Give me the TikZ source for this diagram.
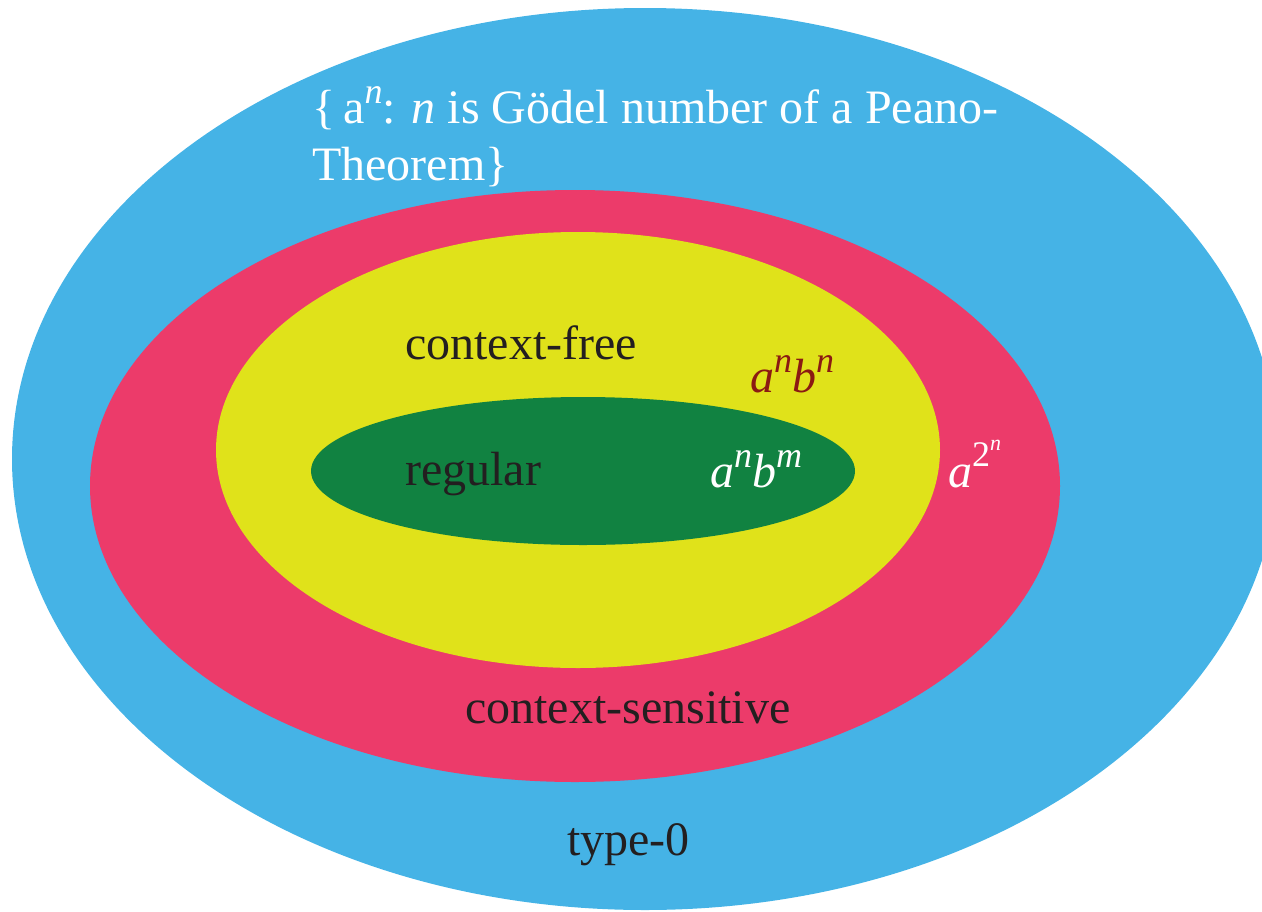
\documentclass[tikz,border=0pt]{standalone}
\usepackage{fontspec}
\setmainfont{Liberation Serif}
\definecolor{cblue}{HTML}{45B3E6}
\definecolor{cred}{HTML}{EC3B6A}
\definecolor{cyellow}{HTML}{E0E21A}
\definecolor{cgreen}{HTML}{118241}
\definecolor{ctext}{HTML}{231F20}
\definecolor{cdred}{HTML}{8B1A12}
\newcommand{\mysup}[1]{\raisebox{0.4em}{\fontsize{36}{36}\selectfont\textit{#1}}}
\begin{document}
\begin{tikzpicture}[x=1pt,y=-1pt,
  lbl/.style={inner sep=0pt,anchor=base west,font=\fontsize{48}{57}\selectfont,text=ctext}]
\useasboundingbox (0,0) rectangle (1262,911);
\begin{scope}
\clip (0,0) rectangle (1262,911);
\fill[cblue] (645,459) ellipse [x radius=633, y radius=451];
\end{scope}
\fill[cred] (575,486) ellipse [x radius=485, y radius=296];
\fill[cyellow] (578,450) ellipse [x radius=362, y radius=218];
\fill[cgreen] (583,471) ellipse [x radius=272, y radius=74];
\node[lbl,text=white] (h1) at (312,123) {\{\,a\mysup{n}: \textit{n} is Gödel number of a Peano-};
\node[lbl,text=white] (h2) at (312,180) {Theorem\}};
\node[lbl] (cf) at (405,359) {context-free};
\node[lbl] (rg) at (405,485) {regular};
\node[lbl] (cs) at (465,723) {context-sensitive};
\node[lbl] (t0) at (567,855) {type-0};
\node[lbl,text=cdred] (anbn) at (750,392) {\textit{a}\mysup{n}\textit{b}\mysup{n}};
\node[lbl,text=white] (anbm) at (710,487) {\textit{a}\mysup{n}\textit{b}\mysup{m}};
\node[lbl,text=white] (a2n) at (948,487) {\textit{a}\raisebox{0.42em}{\fontsize{36}{36}\selectfont 2\raisebox{0.45em}{\fontsize{22}{22}\selectfont\textit{n}}}};
\end{tikzpicture}
\end{document}
